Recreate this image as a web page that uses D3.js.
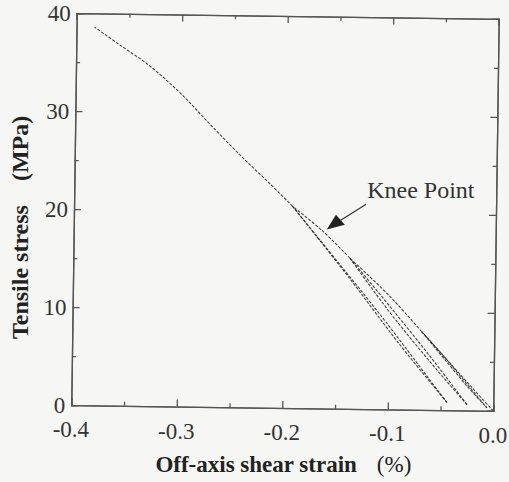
<!DOCTYPE html>
<html>
<head>
<meta charset="utf-8">
<script src="https://cdn.jsdelivr.net/npm/d3@7"></script>
</head>
<body style="margin:0; background:#f6f6f4">
<svg id="chart" width="509" height="482" style="display:block"></svg>
<script>
// Loading / unloading segments, [strain %, stress MPa]
const load1 = [[0, 0], [-0.02, 2.3], [-0.045, 5.2], [-0.069, 8.0]];
const unload1 = [[-0.069, 8.0], [-0.046, 5.1], [-0.026, 2.6], [-0.006, 0.3]];
const reload1 = [[-0.006, 0.3], [-0.03, 3.3], [-0.05, 5.8], [-0.069, 8.0]];
const load2 = [[-0.069, 8.0], [-0.1, 11.6], [-0.138, 15.4]];
const unload2 = [[-0.138, 15.4], [-0.1, 10.6], [-0.06, 5.4], [-0.025, 0.6]];
const reload2 = [[-0.025, 0.6], [-0.062, 5.1], [-0.1, 10.0], [-0.138, 15.4]];
const load3 = [[-0.138, 15.4], [-0.165, 18.2], [-0.193, 20.6]];
const unload3 = [[-0.193, 20.6], [-0.165, 17.0], [-0.108, 9.6], [-0.06, 3.0], [-0.044, 0.8]];
const reload3 = [[-0.044, 0.8], [-0.09, 6.7], [-0.14, 13.6], [-0.193, 20.6]];
const finalLoad = [[-0.193, 20.6], [-0.215, 22.9], [-0.24, 25.4], [-0.27, 28.6], [-0.3, 31.9],
                   [-0.33, 34.7], [-0.36, 36.9], [-0.383, 38.6]];
const segments = [load1, unload1, reload1, load2, unload2, reload2, load3, unload3, reload3, finalLoad];

// Tick values
const xMajor = [-0.4, -0.3, -0.2, -0.1, 0.0];
const xMinor = [-0.35, -0.25, -0.15, -0.05];
const yMajor = [0, 10, 20, 30, 40];
const yMinor = [5, 15, 25, 35];

// Plot frame (before the slight scan tilt)
const plotLeft = 74, plotRight = 496, plotTop = 16, plotBottom = 408;
const tilt = 0.8, cx = 285, cy = 212;
const serif = '"Liberation Serif"';

const svg = d3.select("#chart");
const g = svg.append("g").attr("transform", `rotate(${tilt},${cx},${cy})`);
const labels = svg.append("g");

// rotate a point like the tilted group, for the text which stays unrotated
function tiltPt(px, py) {
  const a = tilt * Math.PI / 180, dx = px - cx, dy = py - cy;
  return [cx + dx * Math.cos(a) - dy * Math.sin(a), cy + dx * Math.sin(a) + dy * Math.cos(a)];
}

const x = d3.scaleLinear().domain([-0.4, 0]).range([plotLeft, plotRight]);
const y = d3.scaleLinear().domain([0, 40]).range([plotBottom, plotTop]);

// axes: ticks point inward on all four sides
const axisColor = "#555";
function frameAxis(axis, tx, ty, major, minor) {
  const a = g.append("g").attr("transform", `translate(${tx},${ty})`);
  a.call(axis.tickValues(major).tickSize(-7).tickFormat(""));
  a.append("g").call(axis.tickValues(minor).tickSize(-4).tickFormat(""));
  a.selectAll("path, line").attr("stroke", axisColor).attr("stroke-width", 1.3);
  a.selectAll("text").remove();
}
frameAxis(d3.axisBottom(x), 0, plotBottom, xMajor, xMinor);
frameAxis(d3.axisTop(x), 0, plotTop, xMajor, xMinor);
frameAxis(d3.axisLeft(y), plotLeft, 0, yMajor, yMinor);
frameAxis(d3.axisRight(y), plotRight, 0, yMajor, yMinor);

// tick labels
labels.selectAll(".xlab").data(xMajor).enter().append("text")
  .attr("class", "xlab")
  .attr("x", d => tiltPt(x(d), plotBottom + 32)[0])
  .attr("y", d => tiltPt(x(d), plotBottom + 32)[1])
  .attr("text-anchor", "middle")
  .style("font-family", serif).style("font-size", "23px").style("fill", "#333")
  .text(d => d3.format(".1f")(d).replace("−", "-"));

labels.selectAll(".ylab").data(yMajor).enter().append("text")
  .attr("class", "ylab")
  .attr("x", d => tiltPt(plotLeft - 6, y(d) + 8)[0])
  .attr("y", d => tiltPt(plotLeft - 6, y(d) + 8)[1])
  .attr("text-anchor", "end")
  .style("font-family", serif).style("font-size", "23px").style("fill", "#333")
  .text(d => d);

// axis titles
const xtPos = tiltPt(287, 472);
const xt = labels.append("text")
  .attr("x", xtPos[0]).attr("y", xtPos[1])
  .attr("text-anchor", "middle")
  .style("font-family", serif).style("font-size", "23px").style("fill", "#222")
  .style("font-weight", "bold");
xt.append("tspan").text("Off-axis shear strain");
xt.append("tspan").attr("dx", 20).style("font-weight", "normal").text("(%)");

const ytPos = tiltPt(28, 231);
labels.append("text")
  .attr("transform", `translate(${ytPos[0]},${ytPos[1]}) rotate(-90)`)
  .attr("text-anchor", "middle")
  .style("font-family", serif).style("font-size", "24px").style("fill", "#222")
  .style("font-weight", "bold")
  .text("Tensile stress\u00a0\u00a0\u00a0\u00a0(MPa)");

// curves
const line = d3.line().x(d => x(d[0])).y(d => y(d[1])).curve(d3.curveCatmullRom);
g.selectAll(".seg").data(segments).enter().append("path")
  .attr("class", "seg")
  .attr("d", line)
  .attr("fill", "none")
  .attr("stroke", "#333")
  .attr("stroke-width", 1)
  .attr("stroke-dasharray", "3,1.5");

// knee point annotation
const kp = tiltPt(367, 197);
labels.append("text")
  .attr("x", kp[0]).attr("y", kp[1])
  .style("font-family", serif).style("font-size", "24px").style("fill", "#333")
  .text("Knee Point");
g.append("line")
  .attr("x1", 366).attr("y1", 203).attr("x2", 340).attr("y2", 220)
  .attr("stroke", "#333").attr("stroke-width", 1.2);
g.append("path")
  .attr("d", "M327,229 L336,214 L345,224 Z")
  .attr("fill", "#222");
</script>
</body>
</html>
